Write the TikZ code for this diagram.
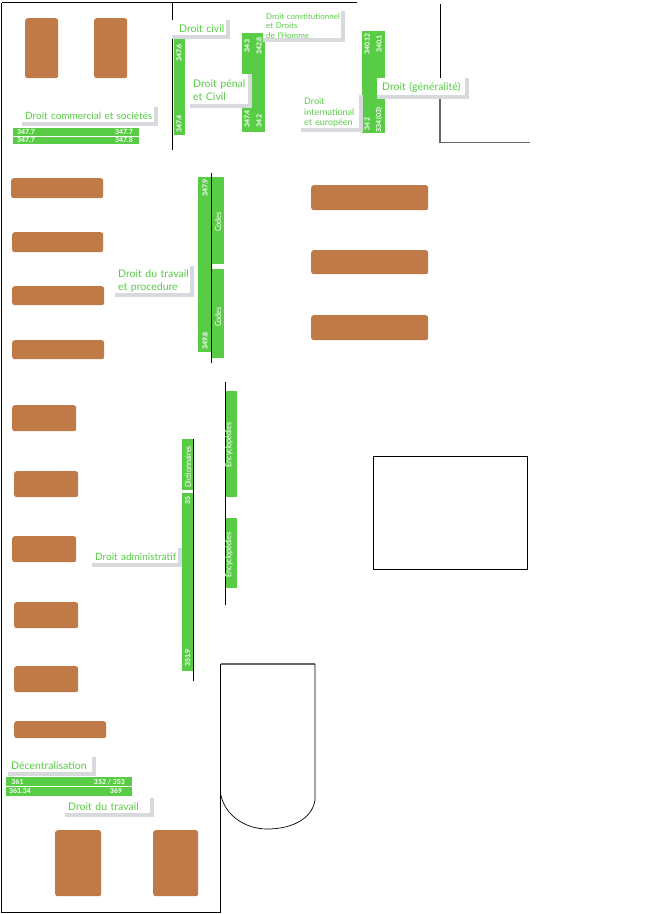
\documentclass[tikz,border=0pt]{standalone}
\usepackage{fontspec}
\setmainfont{Lato}
\definecolor{lawgreen}{HTML}{58CC45}
\definecolor{shelfbrown}{HTML}{BF7A47}
\definecolor{shadowgrey}{HTML}{D8D9DD}
\tikzset{
  wall/.style={black, line width=0.9pt},
  greywall/.style={black!60, line width=1.2pt},
  shelf/.style={fill=shelfbrown, rounded corners=2.5pt, anchor=north west, inner sep=0pt},
  bay/.style={fill=lawgreen, anchor=north west, inner sep=0pt},
  shelfno/.style={text=white, font=\fontsize{7}{8}\selectfont\bfseries, inner sep=0pt},
  shelfname/.style={text=white, font=\fontsize{8.5}{9}\selectfont, inner sep=0pt, rotate=90, xscale=0.85},
  lawlabel/.style={fill=white, text=lawgreen, anchor=north west, inner ysep=0pt, inner xsep=3pt, align=left,
    font=\fontsize{10.5}{13}\selectfont},
  labelshadow/.style={shadowgrey, line width=4pt}
}
\begin{document}
\begin{tikzpicture}[x=1pt,y=-1pt]
\useasboundingbox (0,0) rectangle (657,914);

% murs
\draw[wall] (1.5,2.5) -- (357,2.5);
\draw[wall] (1.5,2.5) -- (1.5,912) -- (220.5,912) -- (220.5,664);
\draw[wall] (172.5,2.5) -- (172.5,150);
\draw[wall] (440,4) -- (440,99);
\draw[greywall] (440,99) -- (440,142.5) -- (530,142.5);
\node[draw, line width=0.8pt, anchor=north west, inner sep=0pt, minimum width=154pt, minimum height=113pt] (desk) at (373,456) {};
\draw[greywall] (220.5,664) -- (315,664);
\draw[wall, line width=0.7pt] (315,664) -- (315,800) .. controls (312,820) and (290,829) .. (267,829)
  .. controls (245,829) and (224,815) .. (220.5,793);

% meubles
\foreach \n/\x/\y/\w/\h in {a/25/18/33/60, b/94/18/33/60,
    c/11/178/92/20, d/12/232/91/20, e/12/286/92/19, f/12/340/92/19,
    g/311/185/117/25, h/311/250/117/24, i/311/315/117/25,
    j/12/405/64/26, k/14/471/64/26, l/12/536/64/26, m/14/602/64/26, n/14/666/64/26, o/14/721/92/17,
    p/55/830/46/66, q/153/830/45/66}
  \node[shelf, minimum width=\w pt, minimum height=\h pt] (shelf\n) at (\x,\y) {};

% travees vertes
\foreach \n/\x/\y/\w/\h in {civ/174/37/11/98,
    pena/242/33/11/99, penb/253/33/12/99,
    gena/362/31/11/102, genb/373/31/12/102,
    cod/198/177/13/175, coda/211/177/13/87, codb/211/269/13/89,
    adm/182/439/11/51, admb/182/493/11/178,
    enca/225/391/12/106, encb/225/518/12/70,
    com/13/128/126/8, comb/13/136.5/126/7.5,
    dec/6/777/126/9, decb/6/787/126/9}
  \node[bay, minimum width=\w pt, minimum height=\h pt] (bay\n) at (\x,\y) {};

% murs sur les travees
\draw[wall] (172.5,37) -- (172.5,150);
\draw[wall] (211.5,173) -- (211.5,363);
\draw[wall] (193.5,439) -- (193.5,681);
\draw[wall] (225,382) -- (225,605);

% numeros
\foreach \x/\y/\t in {179/53/347.6, 179/124/347.4, 247/46/343, 259/46/342.8, 247/119/347.4, 259/121/342,
    367/44/340.12, 379/44/340.1, 367/124/342, 379/120/334 (03),
    205/188/347.9, 205/341/349.8, 187.5/500/35, 187.5/658/351.9}
  \node[shelfno, rotate=90] at (\x,\y) {\t};
\foreach \y/\t in {222/Codes, 317/Codes}
  \node[shelfname] at (218,\y) {\t};
\node[shelfname] (dico) at (188,467) {Dictionnaires};
\node[shelfname] (enca) at (229,445) {Encyclopédies};
\node[shelfname] (encb) at (229,555) {Encyclopédies};
\foreach \x/\y/\t in {26/131.5/347.7, 26/140/347.7, 124/131.5/347.7, 124/140/347.8,
    17.5/782/361, 20/791/361.34, 109.5/782/{352 / 353}, 116/791/369}
  \node[shelfno] at (\x,\y) {\t};

% etiquettes
\node[lawlabel, minimum height=17pt, text width=50pt] (civil) at (172,20) {\hspace*{4pt}Droit civil};
\node[lawlabel, minimum height=32pt, text width=54pt] (penal) at (190,74) {Droit pénal\\et Civil};
\node[lawlabel, font=\fontsize{8}{9.5}\selectfont, minimum height=29pt, text width=74pt] (constit) at (263,11) {Droit constitutionnel\\et Droits\\de l'Homme};
\node[lawlabel, font=\fontsize{9}{10.5}\selectfont, minimum height=35pt, text width=54pt] (intl) at (301,95) {Droit\\international\\et européen};
\node[lawlabel, minimum height=19pt, text width=84pt] (gen) at (377,78) {\hspace*{2pt}Droit (généralité)};
\node[lawlabel, font=\fontsize{10}{12}\selectfont, minimum height=17pt, text width=128pt] (commerce) at (22,107) {\mbox{Droit commercial et sociétés}};
\node[lawlabel, minimum height=29pt, text width=71pt] (procedure) at (115,266) {Droit du travail\\et procedure};
\node[lawlabel, font=\fontsize{10}{12}\selectfont, minimum height=17pt, text width=82pt] (admin) at (92,548) {\mbox{Droit administratif}};
\node[lawlabel, minimum height=17pt, text width=80pt] (decent) at (8,757) {Décentralisation};
\node[lawlabel, minimum height=17pt, text width=81pt] (travail) at (65,798) {Droit du travail};
\foreach \n in {civil,penal,constit,intl,gen,commerce,procedure,admin,decent,travail}
  \draw[labelshadow] (\n.north east) |- (\n.south west);
\end{tikzpicture}
\end{document}
